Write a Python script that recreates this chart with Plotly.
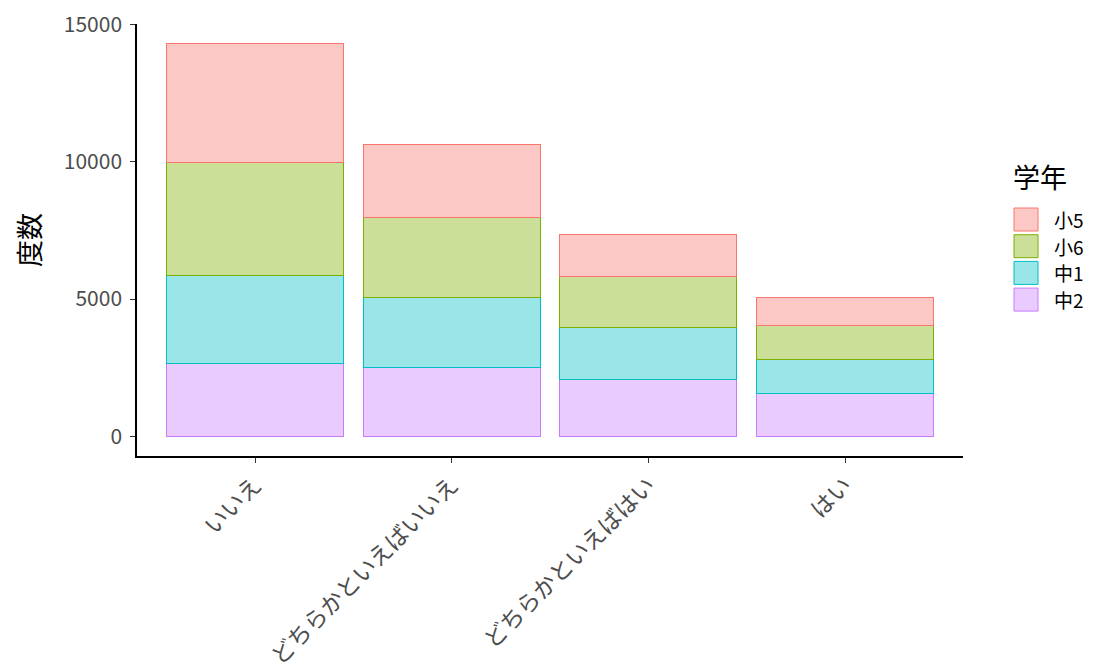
import plotly.graph_objects as go

categories = ["いいえ", "どちらかといえばいいえ", "どちらかといえばはい", "はい"]
grades = ["小5", "小6", "中1", "中2"]

sho5 = [4320, 2677, 1560, 1008]
sho6 = [4126, 2904, 1836, 1260]
chu1 = [3193, 2568, 1896, 1212]
chu2 = [2664, 2496, 2076, 1572]

series = {"小5": sho5, "小6": sho6, "中1": chu1, "中2": chu2}
line_colors = {"小5": "#F8766D", "小6": "#7CAE00", "中1": "#00BFC4", "中2": "#C77CFF"}
fill_colors = {
    "小5": "rgba(248,118,109,0.4)",
    "小6": "rgba(124,174,0,0.4)",
    "中1": "rgba(0,191,196,0.4)",
    "中2": "rgba(199,124,255,0.4)",
}

FONT = "Noto Sans CJK JP"
W, H = 1094, 671
L, R, T, B = 129, 139, 16, 223  # panel margins in figure pixels


def px_x(px):
    # figure pixel -> paper x
    return (px - L) / (W - L - R)


def px_y(py):
    # figure pixel (from top) -> paper y
    return (H - B - py) / (H - T - B)


fig = go.Figure()
# bottom of the stack first
for g in reversed(grades):
    fig.add_trace(
        go.Bar(
            x=categories,
            y=series[g],
            name=g,
            marker=dict(color=fill_colors[g], line=dict(color=line_colors[g], width=1)),
            width=0.9,
            showlegend=False,
        )
    )

totals = [sum(v) for v in zip(*series.values())]
ymax = max(totals)

# hand-drawn legend with large ggplot-like keys
key_x0, key_w, key_h, key_top, step = 1005, 26, 25, 199, 26.7
shapes = []
annotations = [
    dict(
        text="学年", x=px_x(1003), y=px_y(169), xref="paper", yref="paper",
        xanchor="left", yanchor="middle", showarrow=False,
        font=dict(size=27, color="black", family=FONT),
    )
]
for i, g in enumerate(grades):
    y0 = key_top + i * step
    shapes.append(
        dict(
            type="rect", xref="paper", yref="paper",
            x0=px_x(key_x0 + 1), x1=px_x(key_x0 + key_w - 1),
            y0=px_y(y0 + 1), y1=px_y(y0 + key_h - 1),
            fillcolor=fill_colors[g], line=dict(color=line_colors[g], width=1),
        )
    )
    annotations.append(
        dict(
            text=g, x=px_x(1044), y=px_y(y0 + key_h / 2), xref="paper", yref="paper",
            xanchor="left", yanchor="middle", showarrow=False,
            font=dict(size=19, color="black", family=FONT),
        )
    )

fig.update_layout(
    barmode="stack",
    width=W,
    height=H,
    plot_bgcolor="white",
    paper_bgcolor="white",
    margin=dict(l=L, r=R, t=T, b=B),
    font=dict(family=FONT, color="#4D4D4D"),
    showlegend=False,
    shapes=shapes,
    annotations=annotations,
)

fig.update_xaxes(
    range=[-0.6, 3.6],
    automargin=False,
    showline=True,
    linecolor="black",
    linewidth=1.5,
    ticks="outside",
    ticklen=5,
    tickcolor="#333333",
    tickangle=-45,
    tickfont=dict(size=23, color="#4D4D4D", family=FONT),
    showgrid=False,
)
fig.update_yaxes(
    range=[-0.05 * ymax, 1.05 * ymax],
    automargin=False,
    showline=True,
    linecolor="black",
    linewidth=1.5,
    ticks="outside",
    ticklen=5,
    tickcolor="#333333",
    tickvals=[0, 5000, 10000, 15000],
    tickformat="d",
    ticklabelstandoff=4,
    ticklabeloverflow="allow",
    tickfont=dict(size=21, color="#4D4D4D", family=FONT),
    title=dict(text="度数", font=dict(size=27, color="black", family=FONT), standoff=15),
    showgrid=False,
    zeroline=False,
)

fig.write_html("out.html")
